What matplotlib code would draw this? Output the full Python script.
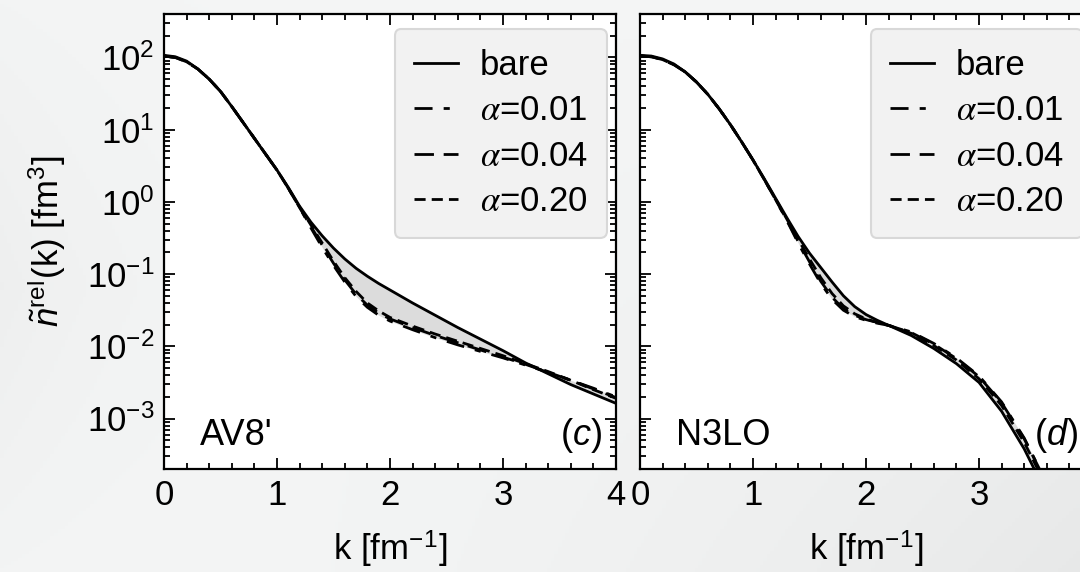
import numpy as np
import matplotlib
matplotlib.use("Agg")
import matplotlib.pyplot as plt
from matplotlib.ticker import MultipleLocator, LogLocator, NullFormatter

plt.rcParams['font.family'] = ['Liberation Sans', 'DejaVu Sans']
plt.rcParams['mathtext.fontset'] = 'custom'
plt.rcParams['mathtext.rm'] = 'Liberation Sans'
plt.rcParams['mathtext.sf'] = 'Liberation Sans:italic'
plt.rcParams['mathtext.it'] = 'STIXGeneral:italic'
plt.rcParams['mathtext.cal'] = 'Liberation Sans'

# ---- data (log10 of n_rel in fm^3) ----
k_av8 = [0.0, 0.1, 0.2, 0.3, 0.4, 0.5, 0.6, 0.7, 0.8, 0.9, 1.0, 1.1, 1.2, 1.3, 1.4,
         1.5, 1.6, 1.7, 1.8, 1.9, 2.0, 2.1, 2.2, 2.4, 2.6, 2.8, 3.0, 3.2, 3.4, 3.6, 3.8, 4.0]
av8_bare = [2.03, 2.01, 1.95, 1.84, 1.70, 1.53, 1.32, 1.10, 0.88, 0.66, 0.44, 0.20, -0.06, -0.28, -0.47,
            -0.64, -0.79, -0.92, -1.03, -1.13, -1.22, -1.31, -1.40, -1.57, -1.74, -1.90, -2.06, -2.23, -2.38, -2.53, -2.66, -2.79]
av8_a001 = [2.02, 2.00, 1.94, 1.84, 1.70, 1.53, 1.32, 1.10, 0.88, 0.66, 0.44, 0.19, -0.08, -0.36, -0.63,
            -0.88, -1.11, -1.31, -1.46, -1.57, -1.65, -1.71, -1.77, -1.88, -1.98, -2.07, -2.16, -2.26, -2.36, -2.47, -2.58, -2.70]
av8_a004 = [2.02, 2.00, 1.94, 1.84, 1.70, 1.53, 1.32, 1.10, 0.88, 0.66, 0.44, 0.19, -0.08, -0.34, -0.60,
            -0.85, -1.08, -1.28, -1.43, -1.54, -1.62, -1.68, -1.74, -1.85, -1.95, -2.05, -2.15, -2.25, -2.36, -2.47, -2.59, -2.71]
av8_a020 = [2.02, 2.00, 1.94, 1.84, 1.70, 1.53, 1.32, 1.10, 0.88, 0.66, 0.44, 0.19, -0.07, -0.32, -0.57,
            -0.82, -1.05, -1.24, -1.40, -1.51, -1.60, -1.66, -1.72, -1.83, -1.93, -2.03, -2.13, -2.24, -2.35, -2.47, -2.60, -2.72]

k_n3lo = [0.0, 0.1, 0.2, 0.3, 0.4, 0.5, 0.6, 0.7, 0.8, 0.9, 1.0, 1.1, 1.2, 1.3, 1.4,
          1.5, 1.6, 1.7, 1.8, 1.9, 2.0, 2.1, 2.2, 2.4, 2.6, 2.8, 3.0, 3.2, 3.4, 3.6]
n3lo_bare = [2.03, 2.02, 1.98, 1.91, 1.80, 1.66, 1.49, 1.29, 1.07, 0.83, 0.58, 0.32, 0.05, -0.22, -0.48,
             -0.71, -0.91, -1.11, -1.30, -1.45, -1.56, -1.64, -1.71, -1.85, -2.03, -2.24, -2.50, -2.90, -3.42, -4.05]
n3lo_a001 = [2.02, 2.01, 1.97, 1.90, 1.80, 1.66, 1.49, 1.29, 1.07, 0.83, 0.58, 0.31, 0.03, -0.26, -0.57,
             -0.86, -1.13, -1.35, -1.50, -1.59, -1.64, -1.68, -1.71, -1.80, -1.96, -2.16, -2.41, -2.77, -3.27, -3.90]
n3lo_a004 = [2.02, 2.01, 1.97, 1.90, 1.80, 1.66, 1.49, 1.29, 1.07, 0.83, 0.58, 0.31, 0.03, -0.25, -0.55,
             -0.83, -1.10, -1.32, -1.48, -1.57, -1.63, -1.67, -1.71, -1.81, -1.97, -2.17, -2.42, -2.78, -3.28, -3.90]
n3lo_a020 = [2.02, 2.01, 1.97, 1.90, 1.80, 1.66, 1.49, 1.29, 1.07, 0.83, 0.58, 0.31, 0.04, -0.24, -0.52,
             -0.79, -1.05, -1.27, -1.44, -1.55, -1.62, -1.67, -1.71, -1.82, -1.99, -2.19, -2.45, -2.82, -3.33, -3.95]

labels = ['bare', r'$\alpha$=0.01', r'$\alpha$=0.04', r'$\alpha$=0.20']
styles = ['-', (0, (6.5, 4, 2.2, 4)), (0, (7, 3.5)), (0, (4, 2.2))]
k_ticks = [0, 1, 2, 3, 4]
panels = [
    ("AV8'", '(c)', k_av8, [av8_bare, av8_a001, av8_a004, av8_a020], ['0', '1', '2', '3', '4']),
    ("N3LO", '(d)', k_n3lo, [n3lo_bare, n3lo_a001, n3lo_a004, n3lo_a020], ['0', '1', '2', '3', '']),
]

W, H = 1080, 572
FS = 25
fig = plt.figure(figsize=(W / 100, H / 100), dpi=100)

# soft grey page background
bg = fig.add_axes([0, 0, 1, 1], zorder=-10)
xx, yy = np.meshgrid(np.linspace(0, 1, 300), np.linspace(1, 0, 160))
shade = 0.958 - 0.05 * xx ** 2 * (1 - yy) - 0.025 * np.exp(-xx / 0.12) * (1 - abs(yy - 0.5) * 1.6)
bg.imshow(np.dstack([shade, shade + 0.004, shade + 0.004]).clip(0, 1), aspect='auto',
          extent=[0, 1, 0, 1])
bg.axis('off')

axes_boxes = [[164 / W, 103 / H, 452 / W, 455 / H], [640 / W, 103 / H, 452 / W, 455 / H]]

for i, (name, tag, k, curves, tick_lab) in enumerate(panels):
    ax = fig.add_axes(axes_boxes[i])
    ax.set_facecolor('white')
    k = np.array(k)
    vals = [10 ** np.array(c) for c in curves]
    lo = np.min(vals, axis=0)
    hi = np.max(vals, axis=0)
    ax.fill_between(k, lo, hi, color='#dcdcdc', lw=0, zorder=1)
    for v, ls, lab in zip(vals, styles, labels):
        ax.plot(k, v, color='black', lw=2.0, linestyle=ls, label=lab, zorder=2)

    ax.set_yscale('log')
    ax.set_xlim(0, 4)
    ax.set_ylim(2e-4, 4e2)
    ax.set_xticks(k_ticks, tick_lab)
    ax.xaxis.set_minor_locator(MultipleLocator(0.2))
    ax.yaxis.set_major_locator(LogLocator(base=10, numticks=20))
    ax.yaxis.set_minor_locator(LogLocator(base=10, subs=np.arange(2, 10), numticks=20))
    ax.yaxis.set_minor_formatter(NullFormatter())
    ax.tick_params(which='both', direction='in', top=True, right=True, width=1.3,
                   labelsize=FS, pad=7)
    ax.tick_params(which='major', length=8)
    ax.tick_params(which='minor', length=4)
    for sp in ax.spines.values():
        sp.set_linewidth(1.6)
    if i == 1:
        ax.tick_params(labelleft=False)
    else:
        ax.set_ylabel(r'$\tilde{\mathsf{n}}^{\mathrm{rel}}$(k) [fm$^3$]', fontsize=FS, labelpad=14)
    ax.set_xlabel(r'k [fm$^{-1}$]', fontsize=FS, labelpad=12)

    ax.text(0.08, 0.053, name, transform=ax.transAxes, fontsize=26, ha='left', va='baseline')
    ax.text(0.968, 0.053, r'($\mathsf{%s}$)' % tag[1], transform=ax.transAxes, fontsize=26,
            ha='right', va='baseline')

    leg = ax.legend(loc='upper right', bbox_to_anchor=(0.981, 0.967), fontsize=FS,
                    handlelength=1.25, handletextpad=0.63, labelspacing=0.36,
                    borderpad=0.57, borderaxespad=0, fancybox=True, framealpha=1)
    leg.get_frame().set_facecolor('#f2f2f2')
    leg.get_frame().set_edgecolor('#d8d8d8')
    leg.get_frame().set_linewidth(1.5)

fig.savefig('out.png', dpi=100)
